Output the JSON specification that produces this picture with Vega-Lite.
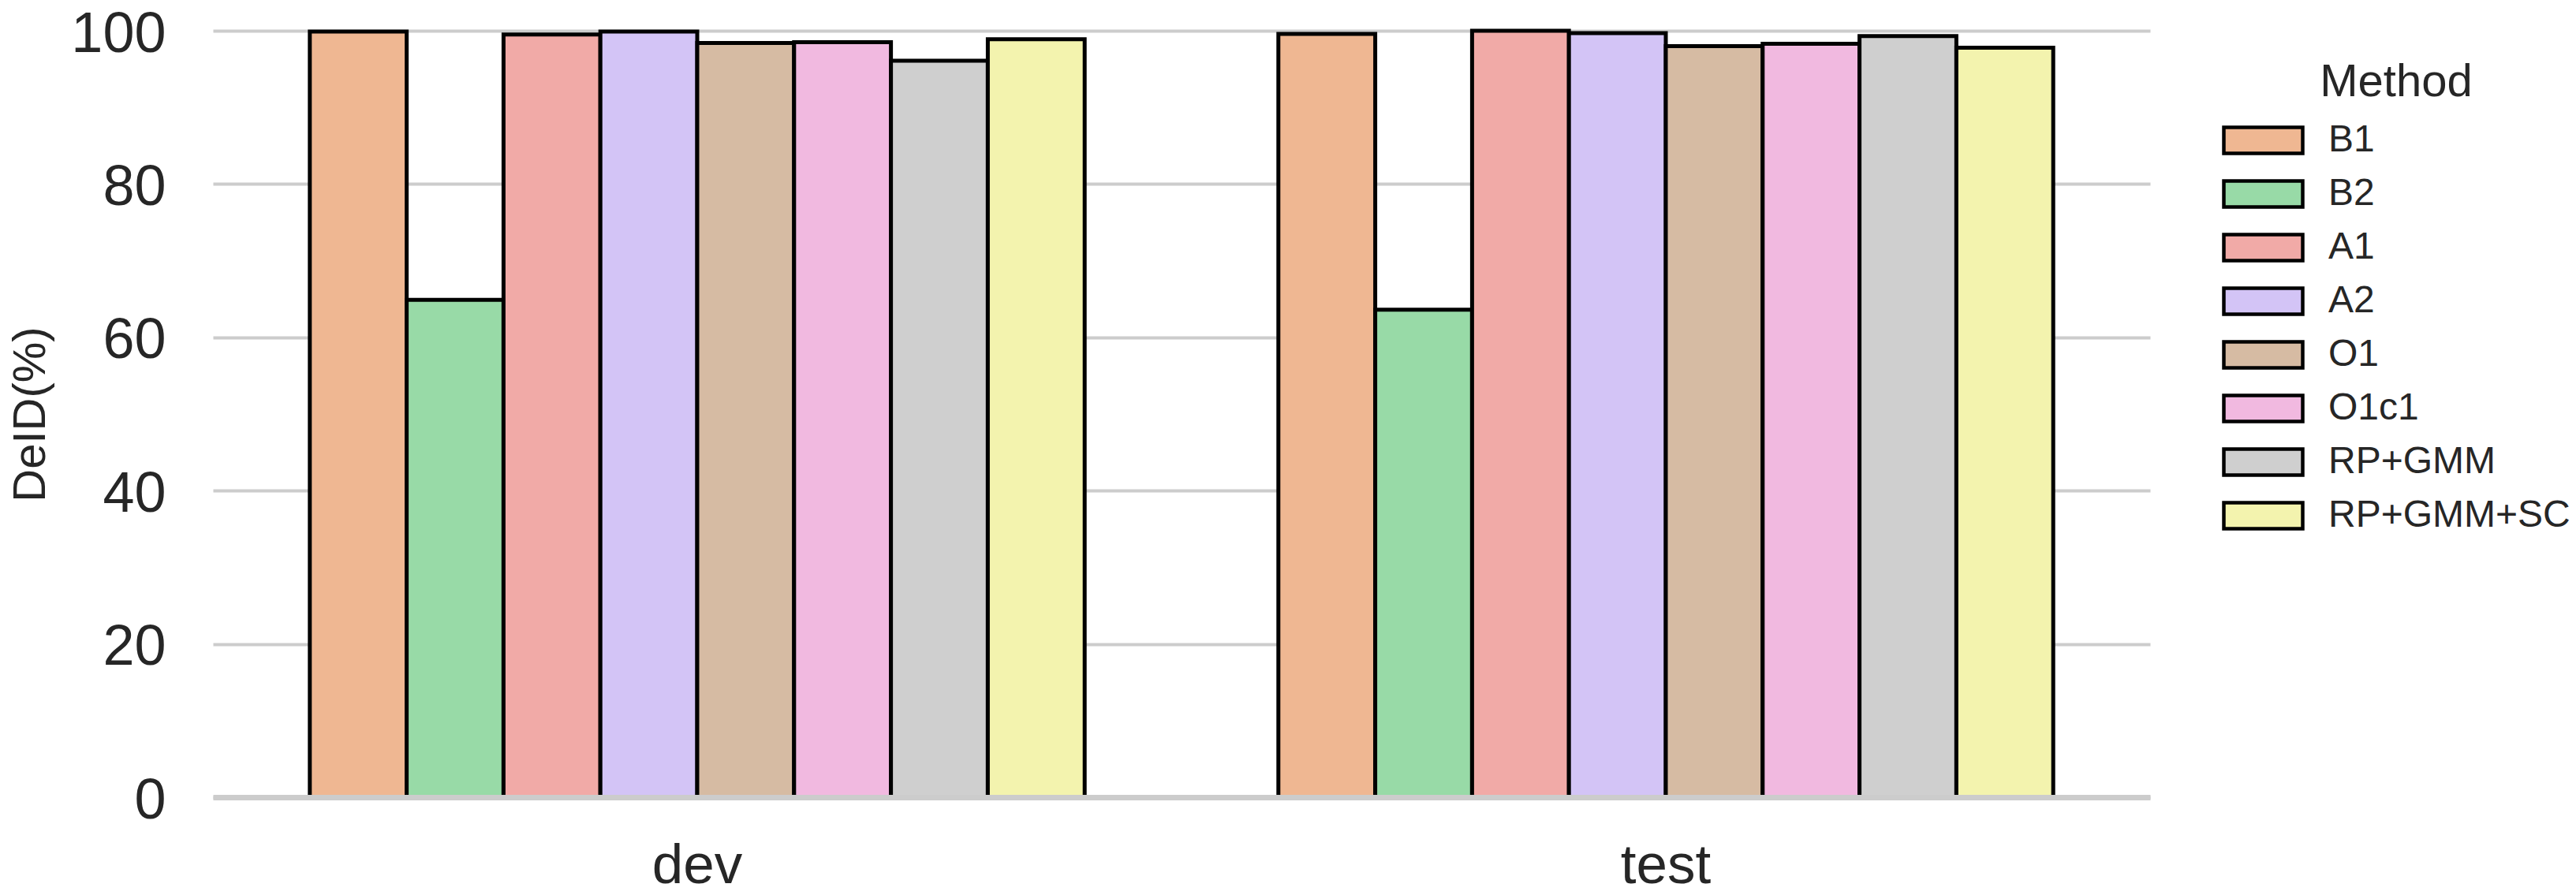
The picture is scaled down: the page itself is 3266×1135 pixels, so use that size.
{
  "$schema": "https://vega.github.io/schema/vega-lite/v6.json",
  "width": 2456,
  "height": 972,
  "autosize": {"type": "none"},
  "padding": {"left": 270, "top": 39, "right": 540, "bottom": 124},
  "background": "white",
  "config": {"view": {"stroke": null}, "font": "Liberation Sans"},
  "data": {
    "values": [
      {"split": "dev", "method": "B1", "deid": 99.9},
      {"split": "dev", "method": "B2", "deid": 64.9},
      {"split": "dev", "method": "A1", "deid": 99.5},
      {"split": "dev", "method": "A2", "deid": 99.9},
      {"split": "dev", "method": "O1", "deid": 98.4},
      {"split": "dev", "method": "O1c1", "deid": 98.5},
      {"split": "dev", "method": "RP+GMM", "deid": 96.1},
      {"split": "dev", "method": "RP+GMM+SC", "deid": 98.9},
      {"split": "test", "method": "B1", "deid": 99.6},
      {"split": "test", "method": "B2", "deid": 63.6},
      {"split": "test", "method": "A1", "deid": 100.0},
      {"split": "test", "method": "A2", "deid": 99.7},
      {"split": "test", "method": "O1", "deid": 98.0},
      {"split": "test", "method": "O1c1", "deid": 98.3},
      {"split": "test", "method": "RP+GMM", "deid": 99.3},
      {"split": "test", "method": "RP+GMM+SC", "deid": 97.8}
    ]
  },
  "mark": {"type": "bar", "stroke": "black", "strokeWidth": 5},
  "encoding": {
    "x": {
      "field": "split",
      "type": "nominal",
      "sort": ["dev", "test"],
      "scale": {"paddingInner": 0.2, "paddingOuter": 0.1},
      "axis": {
        "title": null,
        "labelAngle": 0,
        "labelFontSize": 71,
        "labelColor": "#262626",
        "labelPadding": 52,
        "ticks": false,
        "domainColor": "#cccccc",
        "domainWidth": 7,
        "zindex": 1
      }
    },
    "xOffset": {
      "field": "method",
      "type": "nominal",
      "sort": ["B1", "B2", "A1", "A2", "O1", "O1c1", "RP+GMM", "RP+GMM+SC"],
      "scale": {"paddingInner": 0, "paddingOuter": 0}
    },
    "y": {
      "field": "deid",
      "type": "quantitative",
      "scale": {"domain": [0, 100], "nice": false},
      "axis": {
        "title": "DeID(%)",
        "values": [0, 20, 40, 60, 80, 100],
        "titleFontSize": 58,
        "titleFontWeight": "normal",
        "titleColor": "#262626",
        "titlePadding": 21,
        "labelFontSize": 72,
        "labelColor": "#262626",
        "labelPadding": 60,
        "labelOffset": 4,
        "ticks": false,
        "domain": false,
        "gridColor": "#cccccc",
        "gridWidth": 4
      }
    },
    "color": {
      "field": "method",
      "type": "nominal",
      "sort": ["B1", "B2", "A1", "A2", "O1", "O1c1", "RP+GMM", "RP+GMM+SC"],
      "scale": {
        "domain": ["B1", "B2", "A1", "A2", "O1", "O1c1", "RP+GMM", "RP+GMM+SC"],
        "range": ["#efb792", "#98daa7", "#f1aaa7", "#d3c4f6", "#d6bba3", "#f1b9e0", "#cfcfcf", "#f3f3ae"]
      },
      "legend": {
        "orient": "none",
        "legendX": 2547,
        "legendY": 37,
        "title": "Method",
        "titleFontSize": 58,
        "titleFontWeight": "normal",
        "titleColor": "#262626",
        "titleAnchor": "middle",
        "titlePadding": 20,
        "titleLimit": 600,
        "labelFontSize": 48,
        "labelColor": "#262626",
        "labelOffset": 30,
        "labelLimit": 600,
        "symbolType": "M-1,-0.33H1V0.33H-1Z",
        "symbolSize": 10000,
        "symbolStrokeColor": "black",
        "symbolStrokeWidth": 4.5,
        "symbolOpacity": 1,
        "clipHeight": 48,
        "rowPadding": 20,
        "padding": 0
      }
    }
  }
}
